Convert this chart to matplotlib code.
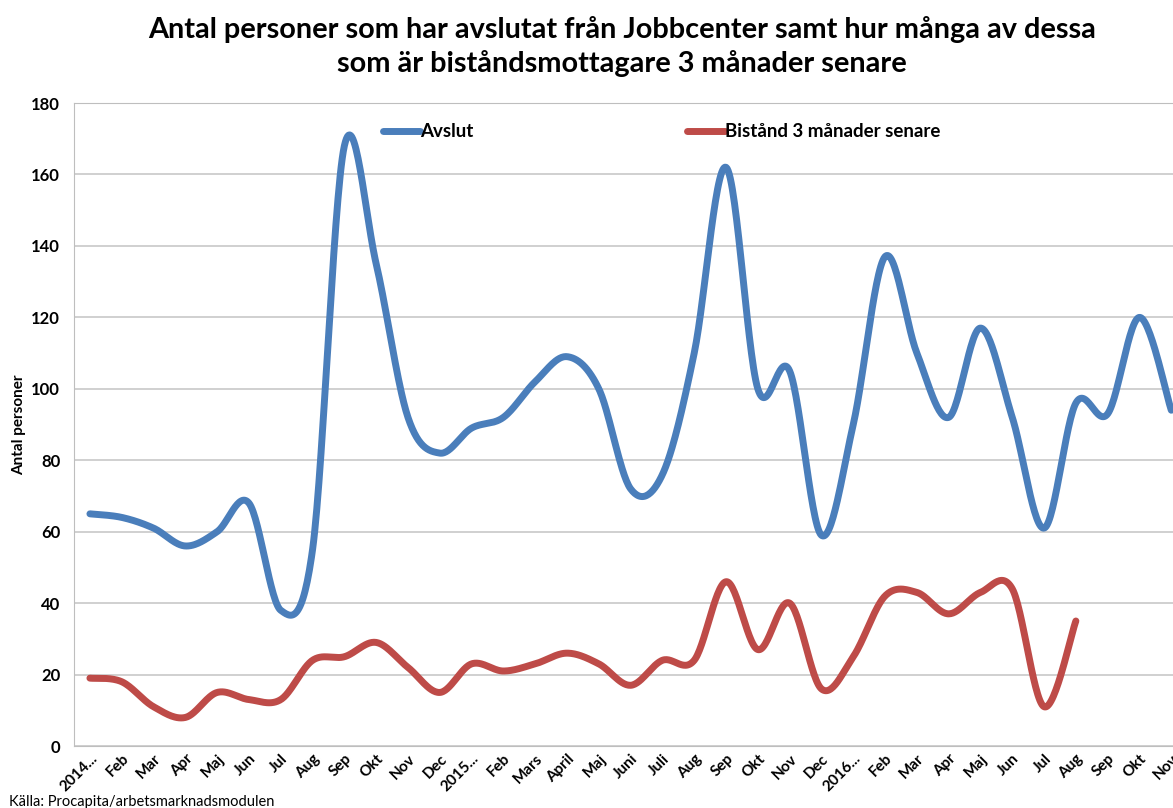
import numpy as np
import matplotlib
matplotlib.use('Agg')
import matplotlib.pyplot as plt

plt.rcParams['font.family'] = ['Lato', 'DejaVu Sans']

months = ['2014...', 'Feb', 'Mar', 'Apr', 'Maj', 'Jun', 'Jul', 'Aug', 'Sep', 'Okt', 'Nov', 'Dec',
          '2015...', 'Feb', 'Mars', 'April', 'Maj', 'Juni', 'Juli', 'Aug', 'Sep', 'Okt', 'Nov', 'Dec',
          '2016...', 'Feb', 'Mar', 'Apr', 'Maj', 'Jun', 'Jul', 'Aug', 'Sep', 'Okt', 'Nov']
avslut = [65, 64, 61, 56, 60, 68, 38, 55, 168, 135, 92, 82,
          89, 92, 102, 109, 100, 72, 76, 110, 162, 100, 105, 59,
          90, 137, 110, 92, 117, 92, 61, 96, 93, 120, 94]
bistand = [19, 18, 11, 8, 15, 13, 13, 24, 25, 29, 22, 15,
           23, 21, 23, 26, 23, 17, 24, 24, 46, 27, 40, 16,
           25, 42, 43, 37, 43, 44, 11, 35]


def smooth(y, n=30):
    # Excel style smoothed line: cubic bezier with 1/6 tangents
    x = np.arange(len(y), dtype=float)
    y = np.asarray(y, dtype=float)
    xs, ys = [], []
    for i in range(len(y) - 1):
        x0, y0 = x[i], y[i]
        x3, y3 = x[i + 1], y[i + 1]
        xp, yp = (x[i - 1], y[i - 1]) if i > 0 else (x0, y0)
        xn, yn = (x[i + 2], y[i + 2]) if i + 2 < len(y) else (x3, y3)
        x1, y1 = x0 + (x3 - xp) / 6, y0 + (y3 - yp) / 6
        x2, y2 = x3 - (xn - x0) / 6, y3 - (yn - y0) / 6
        t = np.linspace(0, 1, n, endpoint=False)
        b0, b1, b2, b3 = (1 - t) ** 3, 3 * t * (1 - t) ** 2, 3 * t ** 2 * (1 - t), t ** 3
        xs.append(b0 * x0 + b1 * x1 + b2 * x2 + b3 * x3)
        ys.append(b0 * y0 + b1 * y1 + b2 * y2 + b3 * y3)
    xs.append([x[-1]])
    ys.append([y[-1]])
    return np.concatenate(xs), np.concatenate(ys)


fig = plt.figure(figsize=(11.73, 8.08), dpi=100)
ax = fig.add_axes([0.0631, 0.0767, 0.949, 0.7958])

bx, by = smooth(avslut)
rx, ry = smooth(bistand)
ax.plot(bx, by, color='#4A7EBB', lw=5, solid_capstyle='round', label='Avslut')
ax.plot(rx, ry, color='#BE4B48', lw=5, solid_capstyle='round', label='Bistånd 3 månader senare')

ax.set_xlim(-0.5, len(months) - 0.5)
ax.set_ylim(0, 180)
ax.set_yticks(range(0, 181, 20))
ax.set_xticks(range(len(months)))
ax.set_xticklabels(months, rotation=45, ha='right', rotation_mode='anchor', fontsize=11, fontweight='bold')
for lab in ax.get_yticklabels():
    lab.set_fontsize(12)
    lab.set_fontweight('bold')
ax.tick_params(length=0, pad=10)
ax.tick_params(axis='x', pad=4)
ax.grid(axis='y', color='#C8C8C8', lw=1.2)
ax.set_axisbelow(True)
for s in ax.spines.values():
    s.set_color('#BEBEBE')
ax.set_ylabel('Antal personer', fontsize=11, fontweight='bold', labelpad=4)

ax.legend(loc='upper left', bbox_to_anchor=(0.262, 0.995), ncol=2, frameon=False,
          prop={'size': 13.5, 'weight': 'bold'}, handlelength=2.0, handletextpad=0.0,
          columnspacing=11.4)

fig.suptitle('Antal personer som har avslutat från Jobbcenter samt hur många av dessa\n'
             'som är biståndsmottagare 3 månader senare',
             x=0.53, y=0.98, fontsize=20.8, fontweight='bold', linespacing=1.3)
fig.text(0.008, 0.003, 'Källa: Procapita/arbetsmarknadsmodulen', fontsize=10.5)

fig.savefig('out.png', dpi=100)
